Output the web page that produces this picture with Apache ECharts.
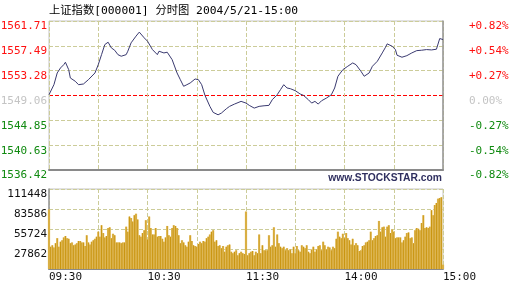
<!DOCTYPE html>
<html><head><meta charset="utf-8">
<script src="https://cdn.jsdelivr.net/npm/echarts@6/dist/echarts.min.js"></script>
<style>html,body{margin:0;padding:0;background:#fff}#c{width:518px;height:289px}</style>
</head><body><div id="c"></div>
<script>
const titleText = '上证指数[000001] 分时图 2004/5/21-15:00';
const watermarkText = 'www.STOCKSTAR.com';
const prevClose = 1549.06;
const priceTicks = [1536.42, 1540.63, 1544.85, 1549.06, 1553.28, 1557.49, 1561.71];
const pctTicks = ['-0.82%', '-0.54%', '-0.27%', '0.00%', '+0.27%', '+0.54%', '+0.82%'];
const volTicks = [0, 27862, 55724, 83586, 111448];
const timeTicks = {0: '09:30', 60: '10:30', 120: '11:30', 180: '14:00', 240: '15:00'};

// minutes since 09:30 (trading minutes, lunch break removed)
const priceMinutes = [0,3,5,7,9,10,12,13,16,18,
 21,24,28,30,32,34,36,38,40,42,
 44,47,48,50,53,55,58,60,63,66,
 67,70,72,75,78,80,82,84,86,89,
 91,93,95,98,100,103,105,108,110,113,
 117,120,122,125,128,131,134,136,139,141,
 143,145,147,150,153,155,158,160,162,164,
 166,169,172,174,176,179,182,185,187,190,
 192,195,197,200,203,205,206,209,211,212,
 215,218,221,224,227,230,233,236,237,238,
 240];
const prices = [1549.20,1550.90,1552.89,1553.74,1554.30,1554.71,1553.45,1552.04,1551.48,1550.90,
 1551.02,1551.75,1552.89,1554.30,1556.00,1557.71,1558.11,1557.14,1556.75,1556.00,
 1555.73,1556.00,1556.58,1558.00,1559.14,1559.82,1558.85,1558.28,1556.86,1556.00,
 1556.58,1556.29,1556.41,1555.15,1552.89,1551.75,1550.63,1550.90,1551.19,1551.87,
 1551.75,1550.90,1549.09,1547.22,1546.20,1545.79,1546.08,1546.81,1547.22,1547.61,
 1548.07,1547.78,1547.39,1546.93,1547.22,1547.32,1547.39,1548.35,1549.20,1550.05,
 1550.90,1550.34,1550.22,1549.88,1549.32,1549.09,1548.35,1547.78,1548.07,1547.61,
 1548.17,1548.63,1549.20,1550.34,1552.33,1553.45,1554.03,1554.59,1554.30,1553.18,
 1552.33,1552.89,1554.03,1554.88,1556.29,1557.26,1557.83,1557.43,1556.86,1555.90,
 1555.56,1555.83,1556.29,1556.68,1556.75,1556.86,1556.80,1556.92,1556.75,1558.73,
 1558.56];

// per-minute volume (thousands), minute 0..240
const volumeMorningK = [83,31,33,30,36,43,31,38,40,44,
 46,43,42,36,37,33,34,36,39,39,
 37,37,32,47,37,34,38,40,42,45,
 52,45,61,50,44,46,57,58,43,49,
 47,37,37,37,36,37,37,59,52,73,
 71,66,75,77,69,47,45,50,54,68,
 41,73,57,48,48,57,45,46,46,42,
 38,44,60,47,45,57,61,60,57,47,
 36,40,37,33,31,38,47,39,33,32,
 31,35,38,36,39,38,43,45,48,52,
 54,38,40,32,33,29,32,24,31,33,
 34,24,22,24,26,19,22,24,22,21];
const volumeAfternoonK = [80,
 19,22,24,25,19,24,22,48,22,33,
 26,26,26,47,31,33,58,31,48,36,
 31,29,31,26,29,26,27,22,31,22,
 32,26,24,33,31,29,33,24,22,27,
 31,24,27,32,33,26,38,33,27,31,
 30,26,31,29,42,52,45,43,49,43,
 50,43,40,34,42,33,36,33,25,26,
 32,33,37,38,40,52,40,43,46,47,
 67,52,58,59,45,59,61,50,55,52,
 43,44,44,44,37,40,45,50,51,43,
 44,36,54,57,56,54,64,75,57,58,
 57,59,82,75,89,92,98,99,100,
 6];

const volumes = volumeMorningK.concat(volumeAfternoonK).map(v => v * 1000);
const volData = volumes.map((v, i) => [i, v]);
const priceData = priceMinutes.map((m, i) => [m, prices[i]]);

const monoFont = '"DejaVu Sans Mono", monospace';
const khaki = '#cccc99';
const gridDash = () => ({color: khaki, type: 'dashed', width: 1});
// price split lines: the previous-close line is red
const priceSplitColors = priceTicks.map(t => (Math.abs(t - prevClose) < 0.005 ? '#ff0000' : khaki));
function priceColor(v) {
  if (Math.abs(v - prevClose) < 0.005) return '#c4c4c4';
  return v > prevClose ? '#ff1010' : '#108a10';
}
function pctLabel(v) {
  const i = priceTicks.findIndex(t => Math.abs(t - v) < 0.005);
  return i >= 0 ? pctTicks[i] : '';
}

const xBase = {type: 'value', min: 0, max: 240, interval: 30};
const chart = echarts.init(document.getElementById('c'), null, {renderer: 'canvas'});
chart.setOption({
  animation: false,
  backgroundColor: '#ffffff',
  graphic: [
    {type: 'text', left: 49, top: 5, style: {text: titleText, font: '11.3px "DejaVu Sans Mono", "Noto Sans CJK SC", monospace', fill: '#000'}},
    {type: 'text', right: 76, top: 173, style: {text: watermarkText, font: 'bold 10.3px "Liberation Sans", Arial, sans-serif', fill: '#2f2f5f'}}
  ],
  grid: [
    {left: 49, top: 21, width: 394, height: 149, show: true, borderColor: '#c4c4c4', borderWidth: 1, backgroundColor: 'transparent', outerBoundsMode: 'none', containLabel: false},
    {left: 49, top: 189, width: 394, height: 80, show: true, borderColor: '#c4c4c4', borderWidth: 1, backgroundColor: 'transparent', outerBoundsMode: 'none', containLabel: false}
  ],
  xAxis: [
    Object.assign({}, xBase, {gridIndex: 0, axisLabel: {show: false}, axisTick: {show: false},
      axisLine: {show: true, onZero: false, lineStyle: {color: '#8a8a8a', width: 2}},
      splitLine: {show: true, lineStyle: gridDash()}}),
    Object.assign({}, xBase, {gridIndex: 1, axisTick: {show: false},
      axisLine: {show: true, onZero: false, lineStyle: {color: '#8a8a8a', width: 2}},
      splitLine: {show: true, lineStyle: gridDash()},
      axisLabel: {show: true, align: 'left', margin: 3, color: '#111', fontSize: 11, fontFamily: monoFont,
        showMinLabel: true, showMaxLabel: true, formatter: v => timeTicks[v] || ''}}),
    Object.assign({}, xBase, {gridIndex: 1, show: false})
  ],
  yAxis: [
    {type: 'value', gridIndex: 0, min: 1536.42, max: 1561.71, position: 'left',
      axisLine: {show: false}, axisTick: {show: false, customValues: priceTicks},
      axisLabel: {customValues: priceTicks, margin: 2, fontSize: 11, fontFamily: monoFont, verticalAlign: 'top',
        formatter: v => v.toFixed(2), color: v => priceColor(v)},
      splitLine: {show: true, lineStyle: {color: priceSplitColors, type: 'dashed', width: 1}}},
    {type: 'value', gridIndex: 0, min: 1536.42, max: 1561.71, position: 'right',
      axisLine: {show: true, lineStyle: {color: '#999', width: 1.5}}, axisTick: {show: false, customValues: priceTicks},
      axisLabel: {customValues: priceTicks, margin: 26, fontSize: 11, fontFamily: monoFont, verticalAlign: 'top',
        formatter: v => pctLabel(v), color: v => priceColor(v)},
      splitLine: {show: false}},
    {type: 'value', gridIndex: 1, min: 0, max: 111448, interval: 27862, position: 'left',
      axisLine: {show: false}, axisTick: {show: false},
      axisLabel: {margin: 2, fontSize: 11, fontFamily: monoFont, color: '#111', verticalAlign: 'top',
        formatter: v => (v === 0 ? '' : String(Math.round(v)))},
      splitLine: {show: true, lineStyle: gridDash()}},
    {type: 'value', gridIndex: 1, min: 0, max: 111448, interval: 27862, position: 'right',
      axisLine: {show: true, lineStyle: {color: '#999', width: 1.5}}, axisTick: {show: false},
      axisLabel: {show: false}, splitLine: {show: false}}
  ],
  series: [
    {type: 'line', name: 'price', xAxisIndex: 0, yAxisIndex: 0, data: priceData, symbol: 'none', smooth: false,
      lineStyle: {color: '#3a3a70', width: 1}, itemStyle: {color: '#3a3a70'}, z: 5},
    {type: 'bar', xAxisIndex: 1, yAxisIndex: 2, data: volData, barWidth: 2.3, z: 3,
      itemStyle: {color: '#e9c878'}},
    {type: 'bar', xAxisIndex: 2, yAxisIndex: 2, data: volData, barWidth: 1, z: 4,
      itemStyle: {color: '#c99510'}}
  ]
});
</script></body></html>
